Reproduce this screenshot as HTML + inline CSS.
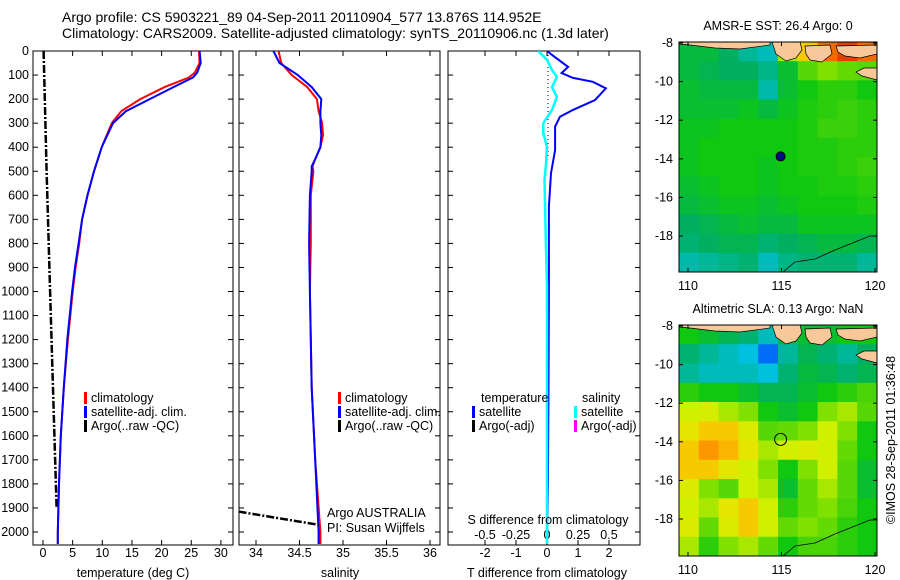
<!DOCTYPE html>
<html><head><meta charset="utf-8"><style>
html,body{margin:0;padding:0;background:#fff;}
svg{display:block;font-family:"Liberation Sans",Arial,sans-serif;font-size:12.5px;}
.ttl{font-size:14px;}
</style></head><body>
<svg id="s" width="900" height="580" viewBox="0 0 900 580">
<text class="ttl" x="62" y="22">Argo profile: CS 5903221_89 04-Sep-2011 20110904_577 13.876S 114.952E</text>
<text class="ttl" x="62" y="38">Climatology: CARS2009. Satellite-adjusted climatology: synTS_20110906.nc (1.3d later)</text>
</svg>
<script>
// ---- data ----
const depthTicks=[0,100,200,300,400,500,600,700,800,900,1000,1100,1200,1300,1400,1500,1600,1700,1800,1900,2000];
const tempTicks=[0,5,10,15,20,25,30];
const salTicks=[34,34.5,35,35.5,36];
const tdiffTicks=[-2,-1,0,1,2];
const sdiffTicks=[-0.5,-0.25,0,0.25,0.5];
const tDepth=[0,50,90,110,150,200,250,300,400,500,600,700,800,900,1000,1200,1400,1600,1800,2000,2050];
const tClim=[26.3,26.4,25.6,24.6,20.5,16.4,13.2,11.6,9.9,8.6,7.5,6.6,6.1,5.5,5.0,4.2,3.5,3.0,2.7,2.5,2.5];
const tSat=[26.4,26.6,26.0,25.3,22.0,18.0,14.0,11.8,9.9,8.6,7.5,6.6,6.0,5.4,4.9,4.1,3.5,3.0,2.7,2.5,2.5];
const argoTDepth=[0,200,500,1000,1500,1900];
const argoT=[0.1,0.3,0.6,1.2,1.8,2.3];
const sDepth=[0,50,100,150,200,250,300,350,400,450,480,500,600,800,1000,1400,1700,2000,2050];
const sClim=[34.26,34.29,34.41,34.59,34.70,34.72,34.76,34.77,34.74,34.68,34.65,34.66,34.63,34.63,34.62,34.64,34.68,34.74,34.74];
const sSat=[34.2,34.27,34.48,34.64,34.75,34.74,34.74,34.75,34.74,34.68,34.64,34.64,34.62,34.61,34.62,34.64,34.68,34.72,34.72];
const argoSDepth=[1915,1970];
const argoS=[33.8,34.72];
const dDepth=[0,20,66,92,112,128,155,204,245,273,314,412,508,647,980,1400,1800,2050];
const tDiff=[0,0.2,0.68,0.47,0.84,1.48,1.9,1.55,0.84,0.42,0.26,0.26,0.13,0.06,0.06,0.05,0.03,0.0];
const sdDepth=[0,37,79,108,150,191,245,300,341,399,482,536,786,980,1400,2050];
const sDiff=[-0.07,0,0.04,0.08,0.04,0.08,0.04,-0.03,-0.03,0,-0.01,-0.02,-0.01,0,0,0];
const mapLon=[110,115,120];
const mapLat=[-8,-10,-12,-14,-16,-18];
const sstGrid=[
[0.47,0.47,0.45,0.42,0.40,0.60,0.70,0.80,0.85,0.80],
[0.47,0.46,0.45,0.45,0.43,0.48,0.55,0.58,0.56,0.55],
[0.48,0.47,0.47,0.47,0.41,0.48,0.50,0.52,0.52,0.50],
[0.48,0.48,0.48,0.49,0.47,0.49,0.51,0.52,0.53,0.52],
[0.49,0.49,0.50,0.50,0.50,0.50,0.51,0.53,0.53,0.52],
[0.49,0.50,0.50,0.50,0.50,0.50,0.51,0.51,0.52,0.52],
[0.49,0.50,0.50,0.50,0.49,0.50,0.51,0.51,0.52,0.53],
[0.48,0.49,0.50,0.50,0.49,0.50,0.50,0.51,0.51,0.52],
[0.47,0.48,0.49,0.49,0.48,0.49,0.50,0.50,0.50,0.51],
[0.45,0.46,0.47,0.48,0.47,0.47,0.49,0.49,0.49,0.49],
[0.44,0.45,0.46,0.46,0.44,0.45,0.46,0.47,0.47,0.46],
[0.41,0.42,0.43,0.44,0.40,0.43,0.44,0.44,0.44,0.42]];
const slaGrid=[
[0.50,0.48,0.46,0.44,0.40,0.46,0.48,0.48,0.50,0.50],
[0.44,0.42,0.40,0.38,0.32,0.42,0.46,0.44,0.42,0.45],
[0.42,0.40,0.40,0.40,0.38,0.44,0.47,0.46,0.44,0.46],
[0.52,0.50,0.50,0.48,0.46,0.46,0.48,0.50,0.52,0.54],
[0.62,0.63,0.60,0.58,0.50,0.48,0.50,0.58,0.60,0.55],
[0.66,0.70,0.70,0.64,0.55,0.56,0.58,0.62,0.58,0.50],
[0.70,0.75,0.72,0.66,0.60,0.62,0.64,0.62,0.56,0.50],
[0.70,0.70,0.65,0.62,0.58,0.50,0.58,0.62,0.55,0.48],
[0.64,0.58,0.55,0.62,0.60,0.48,0.56,0.60,0.55,0.48],
[0.62,0.60,0.66,0.70,0.62,0.52,0.56,0.58,0.54,0.50],
[0.64,0.56,0.64,0.70,0.62,0.56,0.58,0.56,0.52,0.50],
[0.60,0.52,0.58,0.60,0.56,0.50,0.54,0.54,0.52,0.50]];
const floatLon=[114.952];
const floatLat=[-13.876];

const NS='http://www.w3.org/2000/svg';
const svg=document.getElementById('s');
function el(tag,attrs,parent){const e=document.createElementNS(NS,tag);for(const k in attrs)e.setAttribute(k,attrs[k]);(parent||svg).appendChild(e);return e;}
function txt(x,y,s,anchor,parent){const t=el('text',{x:x,y:y,'text-anchor':anchor||'start'},parent);t.textContent=s;return t;}

const pTop=51,pBot=545;
const yD=d=>pTop+d*0.2405;
const xT=v=>43+v*5.93;
const xS=v=>256+(v-34)*87;
const xTD=v=>547+v*31;
const xSD=v=>547+v*124;

function panel(x0,x1,name){
  const g=el('g',{});
  
  
  const r=el('rect',{x:x0,y:pTop,width:x1-x0,height:pBot-pTop,fill:'none',stroke:'#000','stroke-width':1},g);
  
  
  depthTicks.forEach(d=>{
    el('line',{x1:x0,x2:x0+5,y1:yD(d),y2:yD(d),stroke:'#000'},g);
    el('line',{x1:x1,x2:x1-5,y1:yD(d),y2:yD(d),stroke:'#000'},g);
  });
  return g;
}
function xticks(g,ticks,fx,labelY){
  ticks.forEach(v=>{
    const x=fx(v);
    el('line',{x1:x,x2:x,y1:pTop,y2:pTop+5,stroke:'#000'},g);
    el('line',{x1:x,x2:x,y1:pBot,y2:pBot-5,stroke:'#000'},g);
    const t=txt(x,labelY,String(v),'middle',g);
    
    
  });
}
function line(g,xs,ds,fx,color,w,dash,name){
  const pts=xs.map((v,i)=>fx(v).toFixed(1)+','+yD(ds[i]).toFixed(1)).join(' ');
  const p=el('polyline',{points:pts,fill:'none',stroke:color,'stroke-width':w},g);
  if(dash)p.setAttribute('stroke-dasharray',dash);
  
  
  return p;
}
const defs=el('defs',{});
[['c1',33,233],['c2',239,440],['c3',448,640]].forEach(c=>{const cp=el('clipPath',{id:c[0]},defs);el('rect',{x:c[1],y:pTop,width:c[2]-c[1],height:pBot-pTop},cp);});

// panel 1
const p1=panel(33,233,'temperature-panel');
depthTicks.forEach(d=>{const t=txt(29,yD(d)+4,String(d),'end',p1);

});
xticks(p1,tempTicks,xT,557);
const g1=el('g',{'clip-path':'url(#c1)'},p1);
line(g1,argoT,argoTDepth,xT,'#000',2.5,'8 2 2 2','argo-temperature-line');
line(g1,tClim,tDepth,xT,'#f00',2,null,'climatology-temperature-line');
line(g1,tSat,tDepth,xT,'#00f',2,null,'satellite-temperature-line');
let t=txt(133,577,'temperature (deg C)','middle',p1);



// panel 2
const p2=panel(239,440,'salinity-panel');
xticks(p2,salTicks,xS,557);
const g2=el('g',{'clip-path':'url(#c2)'},p2);
line(g2,sClim,sDepth,xS,'#f00',2,null,'climatology-salinity-line');
line(g2,sSat,sDepth,xS,'#00f',2,null,'satellite-salinity-line');
line(g2,argoS,argoSDepth,xS,'#000',2.5,'8 2 2 2','argo-salinity-line');
t=txt(340,577,'salinity','middle',p2);


t=txt(327,517,'Argo AUSTRALIA','start',p2);


t=txt(327,532,'PI: Susan Wijffels','start',p2);



// panel 3
const p3=panel(448,640,'difference-panel');
xticks(p3,tdiffTicks,xTD,557);
sdiffTicks.forEach(v=>{const tt=txt(xSD(v),539,String(v),'middle',p3);

});
el('line',{x1:xTD(0)+1,x2:xTD(0)+1,y1:yD(0),y2:yD(450),stroke:'#000','stroke-dasharray':'1 3'},p3);
const g3=el('g',{'clip-path':'url(#c3)'},p3);
line(g3,tDiff,dDepth,xTD,'#00f',2,null,'temperature-difference-line');
line(g3,sDiff,sdDepth,xSD,'#0ff',2.5,null,'salinity-difference-line');
t=txt(548,524,'S difference from climatology','middle',p3);


t=txt(547,577,'T difference from climatology','middle',p3);



// legends
function legend(x,y,color,label,name){
  const g=el('g',{});
  
  
  el('rect',{x:x,y:y-10,width:3,height:12,fill:color},g);
  txt(x+7,y,label,'start',g);
}
legend(84,402,'#f00','climatology','legend-climatology-t');
legend(84,416,'#00f','satellite-adj. clim.','legend-satellite-t');
legend(84,430,'#000','Argo(..raw -QC)','legend-argo-t');
legend(338,402,'#f00','climatology','legend-climatology-s');
legend(338,416,'#00f','satellite-adj. clim.','legend-satellite-s');
legend(338,430,'#000','Argo(..raw -QC)','legend-argo-s');
t=txt(481,402,'temperature','start');


t=txt(582,402,'salinity','start');


legend(472,416,'#00f','satellite','legend-tdiff-satellite');
legend(472,430,'#000','Argo(-adj)','legend-tdiff-argo');
legend(574,416,'#0ff','satellite','legend-sdiff-satellite');
legend(574,430,'#f0f','Argo(-adj)','legend-sdiff-argo');

// colormap
const cstops=[[0.3,[0,80,255]],[0.38,[0,192,224]],[0.45,[0,176,96]],[0.5,[16,200,16]],[0.58,[128,224,0]],[0.62,[208,240,0]],[0.68,[240,224,0]],[0.74,[255,160,0]],[0.85,[224,64,0]],[0.95,[160,0,0]]];
function cmap(v){
  if(v<=cstops[0][0])return 'rgb('+cstops[0][1]+')';
  for(let i=1;i<cstops.length;i++){if(v<=cstops[i][0]){const a=cstops[i-1],b=cstops[i];const f=(v-a[0])/(b[0]-a[0]);return 'rgb('+a[1].map((c,j)=>Math.round(c+(b[1][j]-c)*f)).join(',')+')';}}
  return 'rgb('+cstops[cstops.length-1][1]+')';
}
function map(y0,y1,grid,title,name,filled){
  const x0=679,x1=877;
  const g=el('g',{});
  
  
  const lonX=lon=>688+(lon-110)*18.7;
  const latY=lat=>y0+1+(-8-lat)*19.3;
  const cw=(x1-x0)/grid[0].length,ch=(y1-y0)/grid.length;
  grid.forEach((row,r)=>row.forEach((v,c)=>{
    const cell=el('rect',{x:x0+c*cw,y:y0+r*ch,width:cw+0.5,height:ch+0.5,fill:cmap(v)},g);
    
    
  }));
  const d=`M${x0},${y0} L770,${y0} L770,${y0+3} L740,${y0+7} L715,${y0+6} L690,${y0+3} L${x0},${y0+2} Z `+
    `M772,${y0} L800,${y0} L802,${y0+8} L796,${y0+16} L786,${y0+19} L776,${y0+12} Z `+
    `M805,${y0+4} L830,${y0+3} L832,${y0+12} L822,${y0+20} L810,${y0+18} L806,${y0+12} Z `+
    `M836,${y0+4} L877,${y0+3} L877,${y0+12} L860,${y0+16} L845,${y0+14} L838,${y0+10} Z `+
    `M877,${y0+26} L877,${y0+38} L862,${y0+34} L856,${y0+30} L864,${y0+26} Z`;
  const land=el('path',{d:d,fill:'#f8c898',stroke:'#000','stroke-width':0.7},g);
  
  
  el('polyline',{points:`783,${y1} 795,${y1-10} 815,${y1-13} 835,${y1-22} 855,${y1-30} 870,${y1-36} ${x1},${y1-36}`,fill:'none',stroke:'#000','stroke-width':0.8},g);
  el('rect',{x:x0,y:y0,width:x1-x0,height:y1-y0,fill:'none',stroke:'#000'},g);
  mapLon.forEach(lon=>{const x=lonX(lon);el('line',{x1:x,x2:x,y1:y1,y2:y1-4,stroke:'#000'},g);el('line',{x1:x,x2:x,y1:y0,y2:y0+4,stroke:'#000'},g);
    const tl=txt(x,y1+18,String(lon),'middle',g);
    
    });
  mapLat.forEach(lat=>{const y=latY(lat);el('line',{x1:x0,x2:x0+4,y1:y,y2:y,stroke:'#000'},g);el('line',{x1:x1,x2:x1-4,y1:y,y2:y,stroke:'#000'},g);
    const tl=txt(x0-6,y+4,String(lat),'end',g);
    
    });
  const tt=txt(778,y0-12,title,'middle',g);
  
  
  const m=el('circle',{cx:lonX(floatLon[0]),cy:latY(floatLat[0]),r:filled?4.5:6,fill:filled?'#001080':'none',stroke:'#000','stroke-width':1},g);
  
  
}
map(42,272,sstGrid,'AMSR-E SST: 26.4 Argo: 0','sst-map',true);
map(325,556,slaGrid,'Altimetric SLA: 0.13 Argo: NaN','sla-map',false);
t=txt(0,0,'©IMOS 28-Sep-2011 01:36:48','middle');
t.setAttribute('transform','translate(895,440) rotate(-90)');


</script>
</body></html>
